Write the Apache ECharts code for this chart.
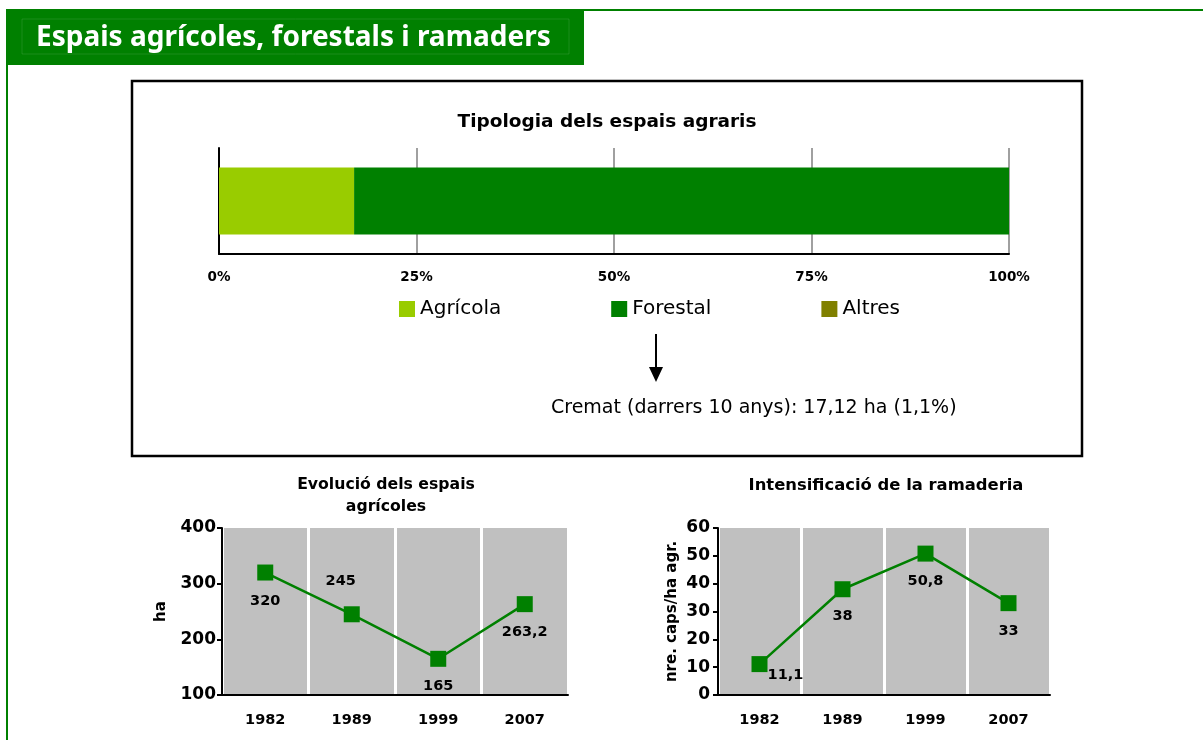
<!DOCTYPE html>
<html>
<head>
<meta charset="utf-8">
<script src="https://cdn.jsdelivr.net/npm/echarts@6.0.0/dist/echarts.min.js"></script>
<style>
  html, body { margin: 0; padding: 0; background: #ffffff; }
  #chart { width: 1203px; height: 740px; }
</style>
</head>
<body>
<div id="chart"></div>
<script>
// ---- Data ----
const tipologiaCategory = ['Tipologia'];
const usoNames = ['Agrícola', 'Forestal', 'Altres'];
const usoPercent = [17.1, 82.9, 0];
const pctTicks = [0, 25, 50, 75, 100];

const years = ['1982', '1989', '1999', '2007'];
const agricolesHa = [320, 245, 165, 263.2];
const ramaderiaCaps = [11.1, 38, 50.8, 33];

const agriTicks = [100, 200, 300, 400];
const ramTicks = [0, 10, 20, 30, 40, 50, 60];

// ---- Styling ----
const usoColors = ['#99cc00', '#008000', '#808000'];
const GREEN = '#008000';
const FONT = 'DejaVu Sans';
const agriLabelOffsets = [[0, 29], [-11, -33], [0, 27], [0, 28]];
const ramLabelOffsets = [[26, 11], [0, 27], [0, 28], [0, 28]];

const fmtComma = p => String(p.value).replace('.', ',');

const chart = echarts.init(document.getElementById('chart'), null, { renderer: 'canvas' });

const boldLabel = (size) => ({ fontFamily: FONT, fontWeight: 'bold', fontSize: size, color: '#000' });

function lineGrid(idx) {
  return {
    gridIndex: idx,
    type: 'category',
    data: years,
    boundaryGap: true,
    axisLine: { show: true, lineStyle: { color: '#000', width: 2 } },
    axisTick: { show: false },
    axisLabel: Object.assign({ margin: 18, interval: 0 }, boldLabel(14.5)),
    splitLine: { show: true, interval: 0, lineStyle: { color: '#ffffff', width: 3 } }
  };
}

const option = {
  animation: false,
  backgroundColor: '#ffffff',
  grid: [
    { left: 219, top: 148, width: 790, height: 106, outerBoundsMode: 'none', containLabel: false },
    { left: 222, top: 528, width: 346, height: 167, show: true, backgroundColor: '#c0c0c0', borderWidth: 0, outerBoundsMode: 'none', containLabel: false },
    { left: 718, top: 528, width: 332, height: 167, show: true, backgroundColor: '#c0c0c0', borderWidth: 0, outerBoundsMode: 'none', containLabel: false }
  ],
  legend: {
    data: usoNames,
    left: 394,
    top: 294,
    icon: 'rect',
    itemWidth: 16,
    itemHeight: 16,
    itemGap: 110,
    selectedMode: false,
    textStyle: { fontFamily: FONT, fontSize: 20, color: '#000', padding: [0, 0, 0, 0] }
  },
  xAxis: [
    {
      gridIndex: 0,
      type: 'value',
      min: 0, max: 100, interval: 25,
      axisLine: { show: true, lineStyle: { color: '#000', width: 2 } },
      axisTick: { show: false },
      axisLabel: Object.assign({ formatter: '{value}%', margin: 16 }, boldLabel(13.5)),
      splitLine: { show: true, lineStyle: { color: '#a0a0a0', width: 2 } }
    },
    lineGrid(1),
    lineGrid(2)
  ],
  yAxis: [
    {
      gridIndex: 0,
      type: 'category',
      data: tipologiaCategory,
      axisLine: { show: true, lineStyle: { color: '#000', width: 2 } },
      axisTick: { show: false },
      axisLabel: { show: false },
      splitLine: { show: false }
    },
    {
      gridIndex: 1,
      type: 'value',
      min: 100, max: 400, interval: 100,
      axisLine: { show: true, lineStyle: { color: '#000', width: 2 } },
      axisTick: { show: true, length: 5, lineStyle: { color: '#000', width: 2 } },
      axisLabel: Object.assign({ margin: 6 }, boldLabel(17)),
      splitLine: { show: false },
      name: 'ha',
      nameLocation: 'middle',
      nameGap: 53,
      nameTextStyle: boldLabel(15)
    },
    {
      gridIndex: 2,
      type: 'value',
      min: 0, max: 60, interval: 10,
      axisLine: { show: true, lineStyle: { color: '#000', width: 2 } },
      axisTick: { show: true, length: 5, lineStyle: { color: '#000', width: 2 } },
      axisLabel: Object.assign({ margin: 8 }, boldLabel(17)),
      splitLine: { show: false },
      name: 'nre. caps/ha agr.',
      nameLocation: 'middle',
      nameGap: 38,
      nameTextStyle: boldLabel(15)
    }
  ],
  series: [
    ...usoNames.map((n, i) => ({
      name: n,
      type: 'bar',
      stack: 'uso',
      xAxisIndex: 0,
      yAxisIndex: 0,
      barWidth: 67,
      itemStyle: { color: usoColors[i] },
      data: [usoPercent[i]]
    })),
    {
      name: 'agricoles',
      type: 'line',
      xAxisIndex: 1,
      yAxisIndex: 1,
      symbol: 'rect',
      symbolSize: 16,
      lineStyle: { color: GREEN, width: 2.5 },
      itemStyle: { color: GREEN },
      label: Object.assign({ show: true, position: 'inside', formatter: fmtComma }, boldLabel(14.5)),
      data: agricolesHa.map((v, i) => ({ value: v, label: { offset: agriLabelOffsets[i] } }))
    },
    {
      name: 'ramaderia',
      type: 'line',
      xAxisIndex: 2,
      yAxisIndex: 2,
      symbol: 'rect',
      symbolSize: 16,
      lineStyle: { color: GREEN, width: 2.5 },
      itemStyle: { color: GREEN },
      label: Object.assign({ show: true, position: 'inside', formatter: fmtComma }, boldLabel(14.5)),
      data: ramaderiaCaps.map((v, i) => ({ value: v, label: { offset: ramLabelOffsets[i] } }))
    }
  ],
  graphic: [
    // page frame lines
    { type: 'rect', silent: true, z: -10, shape: { x: 6, y: 9, width: 1197, height: 2 }, style: { fill: GREEN } },
    { type: 'rect', silent: true, z: -10, shape: { x: 6, y: 9, width: 2, height: 731 }, style: { fill: GREEN } },
    // header
    { type: 'rect', silent: true, z: -5, shape: { x: 6, y: 9, width: 578, height: 56 }, style: { fill: GREEN } },
    { type: 'rect', silent: true, z: -4, shape: { x: 22, y: 19, width: 547, height: 35 }, style: { fill: 'none', stroke: 'rgba(255,255,255,0.10)', lineWidth: 1 } },
    { type: 'text', silent: true, z: 10, x: 36, y: 38, style: { text: 'Espais agrícoles, forestals i ramaders', fill: '#ffffff', font: 'bold 28px "Noto Sans"', textAlign: 'left', textVerticalAlign: 'middle' } },
    // top box
    { type: 'rect', silent: true, z: -3, shape: { x: 132, y: 81, width: 950, height: 375 }, style: { fill: 'none', stroke: '#000', lineWidth: 2.5 } },
    // chart titles
    { type: 'text', silent: true, x: 607, y: 122, style: { text: 'Tipologia dels espais agraris', fill: '#000', font: 'bold 18.5px "DejaVu Sans"', textAlign: 'center', textVerticalAlign: 'middle' } },
    { type: 'text', silent: true, x: 386, y: 496, style: { text: 'Evolució dels espais\nagrícoles', fill: '#000', font: 'bold 15.7px "DejaVu Sans"', lineHeight: 22, textAlign: 'center', textVerticalAlign: 'middle' } },
    { type: 'text', silent: true, x: 886, y: 486, style: { text: 'Intensificació de la ramaderia', fill: '#000', font: 'bold 16.4px "DejaVu Sans"', textAlign: 'center', textVerticalAlign: 'middle' } },
    // arrow
    { type: 'line', silent: true, shape: { x1: 656, y1: 334, x2: 656, y2: 370 }, style: { stroke: '#000', lineWidth: 2 } },
    { type: 'polygon', silent: true, shape: { points: [[649, 367], [663, 367], [656, 382]] }, style: { fill: '#000' } },
    { type: 'text', silent: true, x: 551, y: 408, style: { text: 'Cremat (darrers 10 anys): 17,12 ha (1,1%)', fill: '#000', font: '19px "DejaVu Sans"', textAlign: 'left', textVerticalAlign: 'middle' } }
  ]
};

chart.setOption(option);
</script>
</body>
</html>
